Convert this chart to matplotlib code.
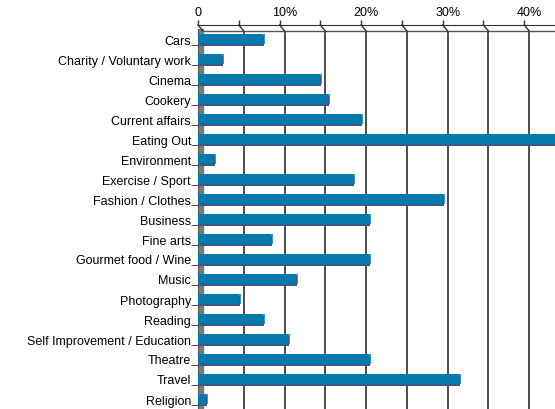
import numpy as np
import matplotlib
matplotlib.use("Agg")
import matplotlib.pyplot as plt
from matplotlib.transforms import offset_copy, blended_transform_factory

# values (percent)
categories = ["Cars", "Charity / Voluntary work", "Cinema", "Cookery", "Current affairs",
              "Eating Out", "Environment", "Exercise / Sport", "Fashion / Clothes",
              "Business", "Fine arts", "Gourmet food / Wine", "Music", "Photography",
              "Reading", "Self Improvement / Education", "Theatre", "Travel", "Religion"]
values = [8, 3, 15, 16, 20, 46, 2, 19, 30, 21, 9, 21, 12, 5, 8, 11, 21, 32, 1]

tick_pos = [0, 10, 20, 30, 40]
tick_labels = ["0", "10%", "20%", "30%", "40%"]

plt.rcParams['font.family'] = ['Liberation Sans', 'DejaVu Sans']

fig = plt.figure(figsize=(5.55, 4.10), dpi=100)
ax = fig.add_axes([198 / 555, 0.0, 367 / 555, 380 / 410])
ax.set_xlim(0, 45)
ax.set_ylim(len(categories) - 0.5, -0.5)

y = np.arange(len(categories))

# back-plane gridlines (shifted right a few pixels for the 3d look)
grid_tr = offset_copy(ax.transData, fig=fig, x=5, y=-2, units='dots')
for g in np.arange(5, 50, 5):
    ax.vlines(g, -0.5, len(categories) - 0.5, colors='#4d4d4d', lw=1.4,
              transform=grid_tr, zorder=1)
ax.hlines(-0.5, 0, 45, colors='#555555', lw=1.0, transform=grid_tr, zorder=1)

# left wall
ax.axvspan(0, 0.6, color='#7a7a7a', zorder=2)
ax.axvline(0, color='#444444', lw=1.2, zorder=3)

# bars: lighter end cap, dark underside, then front face
cap_tr = offset_copy(ax.transData, fig=fig, x=2, y=0, units='dots')
shadow_tr = offset_copy(ax.transData, fig=fig, x=1, y=-2, units='dots')
ax.barh(y, values, height=0.5, color='#3a8fd0', transform=cap_tr, zorder=4)
ax.barh(y, values, height=0.5, color='#3d5a86', transform=shadow_tr, zorder=4)
ax.barh(y, values, height=0.5, color='#0479ab', zorder=5)

# top axis (lengths in points: 100 dpi -> 0.72 pt per pixel)
ax.xaxis.tick_top()
ax.set_xticks(np.arange(0, 50, 5))
ax.set_xticklabels([])
ax.tick_params(axis='x', direction='out', length=3.6, width=1.0, color='#333333', pad=0)
ax.spines['top'].set_position(('outward', 2.9))
ax.spines['top'].set_color('#333333')
for s in ['right', 'bottom', 'left']:
    ax.spines[s].set_visible(False)

btr = blended_transform_factory(ax.transData, ax.transAxes)
for t, lab in zip(tick_pos, tick_labels):
    shift = 5 if lab.endswith('%') else 0
    lab_tr = offset_copy(btr, fig=fig, x=shift, y=17, units='dots')
    ax.text(t, 1, lab, transform=lab_tr, ha='center', va='center', fontsize=9,
            clip_on=False)

# slanted connectors from front axis to back plane
px = ax.transData.transform([[0, 0], [1, 0]])
dx = 5 / (px[1, 0] - px[0, 0])
for g in np.arange(0, 50, 5):
    ax.plot([g, g + dx], [1 + 4 / 380, 1 - 2 / 380], color='#333333', lw=1.0,
            transform=btr, clip_on=False, zorder=6)

# category axis
ax.set_yticks(y)
ax.set_yticklabels(categories, fontsize=9)
ax.tick_params(axis='y', length=0, pad=5)
ax.set_yticks(np.arange(len(categories)) + 0.3, minor=True)
ax.tick_params(axis='y', which='minor', direction='out', length=5, color='#333333')

fig.savefig("out.png", dpi=100)
